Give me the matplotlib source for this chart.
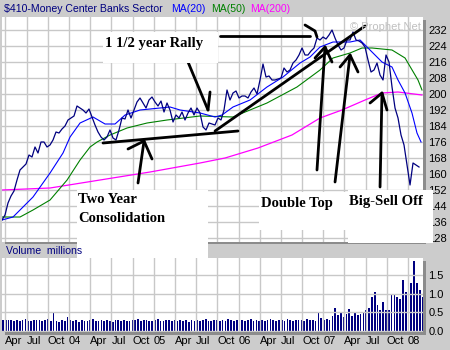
import numpy as np
import matplotlib.pyplot as plt
from matplotlib.patches import Rectangle

W, H = 450, 350
BG = '#cccccc'
SHADOW = '#8c8c8c'
GRID = '#c8c8c8'
NAVY = '#000080'

# time axis is in fractional years
x_start, x_end = 2003.209, 2008.177

# closes, roughly every 13 days from spring 2003 to early 2008
price = [137, 139.5, 145.5, 149, 151.5, 157, 162, 163.5, 165, 169.5, 168.5, 173.5,
         170.5, 176, 176, 173.5, 174.5, 177, 181, 180.5, 182.5, 184, 187, 188,
         189, 194, 193, 192, 190.5, 192.5, 188.5, 184.5, 181, 178.5, 177, 178.5,
         182, 178, 177, 182, 188, 187.5, 192, 188, 192, 196, 198, 195.5,
         193, 197, 198.5, 196, 194, 196.5, 191, 195.5, 192, 186, 189.5, 188,
         191, 187, 190.5, 193, 189.5, 193, 190.5, 183.5, 182, 185.5, 185, 184.5,
         188, 187, 192, 202, 197, 200.5, 201.5, 198, 199, 199, 198, 201,
         203, 200, 207, 215, 208.5, 209, 207, 207, 207.5, 208, 213, 211,
         212, 215.5, 217, 219.5, 223, 219.5, 219.5, 221.5, 223, 228, 227, 228.5,
         227.5, 229.5, 232, 228, 224.5, 222, 223, 227, 227, 231, 227, 226.5,
         225.5, 223.5, 217, 211, 212, 215.5, 209.5, 207, 219.5, 216, 203.5, 193,
         188, 179.5, 174.5, 164.5, 154.5, 165.5, 164.5, 163.5]
price_t = np.linspace(x_start, 2008.130, len(price))

# moving averages (20, 50, 200 day)
ma20_t = [2003.209, 2003.339, 2003.575, 2003.776, 2003.929, 2004.012, 2004.130, 2004.283,
          2004.425, 2004.543, 2004.661, 2004.838, 2005.074, 2005.192, 2005.310, 2005.546,
          2005.723, 2005.805, 2005.935, 2006.136, 2006.336, 2006.525, 2006.726, 2006.844,
          2006.962, 2007.115, 2007.316, 2007.434, 2007.528, 2007.693, 2007.811, 2007.882,
          2007.965, 2008.047, 2008.106, 2008.154]
ma20 = [137, 138.5, 148.5, 160.5, 170.5, 178.5, 185.5, 188.5, 185, 185, 189.5, 192,
        193, 193.5, 192, 190.5, 188.5, 189.5, 193.5, 197, 203.5, 208.5, 215.5, 218.5,
        223.5, 226, 226, 227, 223, 216, 213.5, 207, 200.5, 190.5, 180.5, 176]

ma50_t = [2003.209, 2003.422, 2003.575, 2003.776, 2003.977, 2004.130, 2004.248, 2004.331,
          2004.484, 2004.685, 2004.921, 2005.157, 2005.546, 2005.935, 2006.336, 2006.690,
          2006.962, 2007.115, 2007.316, 2007.457, 2007.575, 2007.811, 2007.965, 2008.118,
          2008.165]
ma50 = [138.5, 138.5, 142, 147, 157, 167, 173.5, 176, 179.5, 183, 185.5, 187, 189,
        188.5, 195.5, 203.5, 212, 218, 220.5, 223, 223, 222, 218, 207, 202]

ma200_t = [2003.209, 2003.776, 2004.366, 2004.956, 2005.546, 2005.841, 2006.230, 2006.631,
           2006.962, 2007.221, 2007.493, 2007.693, 2007.882, 2008.165]
ma200 = [152, 153, 157, 161, 165.5, 168, 173, 179.5, 188, 192, 197, 200.5, 201, 199.5]

# volume in millions
volume = [0.30, 0.28, 0.30, 0.29, 0.27, 0.30, 0.26, 0.28, 0.31, 0.27, 0.25, 0.29, 0.28,
          0.30, 0.26, 0.28, 0.31, 0.27, 0.50, 0.26, 0.24, 0.29, 0.27, 0.38, 0.30, 0.27,
          0.28, 0.24, 0.30, 0.27, 0.26, 0.29, 0.31, 0.27, 0.25, 0.28, 0.26, 0.30, 0.27,
          0.24, 0.29, 0.28, 0.26, 0.30, 0.27, 0.25, 0.29, 0.28, 0.31, 0.26, 0.28, 0.30,
          0.27, 0.25, 0.29, 0.33, 0.27, 0.26, 0.30, 0.28, 0.25, 0.29, 0.27, 0.30, 0.26,
          0.28, 0.24, 0.29, 0.27, 0.30, 0.26, 0.28, 0.31, 0.27, 0.25, 0.29, 0.28, 0.26,
          0.30, 0.27, 0.32, 0.28, 0.26, 0.29, 0.25, 0.30, 0.27, 0.28, 0.33, 0.26, 0.29,
          0.27, 0.30, 0.26, 0.28, 0.31, 0.29, 0.27, 0.30, 0.28, 0.26, 0.32, 0.29, 0.27,
          0.30, 0.28, 0.30, 0.27, 0.31, 0.28, 0.30, 0.27,
          0.48, 0.35, 0.30, 0.33, 0.30, 0.40, 0.61, 0.42, 0.50, 0.38, 0.45, 0.58, 0.40,
          0.48, 0.42, 0.45, 0.47, 0.55, 0.62, 0.91, 1.05, 0.70, 0.55, 0.78, 0.55, 0.55,
          1.00, 1.00, 0.90, 0.85, 1.37, 1.05, 0.60, 1.30, 1.90, 1.28, 1.10, 0.90]
vol_t = np.linspace(x_start + 0.01, x_end - 0.005, len(volume))

quarters = np.arange(2003.25, 2008.1, 0.25)
q_labels = []
for q in quarters:
    frac = round((q % 1) * 4)
    q_labels.append(['%02d' % (int(q) % 100), 'Apr', 'Jul', 'Oct'][frac])


def fx(x):
    return x / W


def fy(y):
    return 1 - y / H


fig = plt.figure(figsize=(W / 100, H / 100), dpi=100, facecolor=BG)
plt.rcParams['font.family'] = ['Liberation Sans', 'DejaVu Sans']

# price panel
ax = fig.add_axes([fx(2), fy(242), (423 - 2) / W, (242 - 17) / H])
ax.set_xlim(x_start, x_end)
ax.set_ylim(126, 238.5)
ax.set_yticks(np.arange(128, 233, 8))
ax.set_xticks(quarters)
ax.set_xticklabels([])
ax.grid(True, color=GRID, lw=1)
ax.yaxis.tick_right()
ax.tick_params(length=0, labelsize=8, pad=4)
for s in ax.spines.values():
    s.set_visible(False)

ax.plot(ma200_t, ma200, color='#ff00ff', lw=0.9)
ax.plot(ma50_t, ma50, color='#008000', lw=0.8)
ax.plot(ma20_t, ma20, color='#0000ff', lw=0.8)
ax.plot(price_t, price, color=NAVY, lw=0.9)

ax.text(0.995, 0.955, '\u00a9 Prophet.Net', transform=ax.transAxes, ha='right',
        va='center', fontsize=8, color='#c0c0c0')

# volume panel
vax = fig.add_axes([fx(2), fy(332), (423 - 2) / W, (332 - 258) / H])
vax.set_xlim(x_start, x_end)
vax.set_ylim(-0.035, 1.97)
vax.set_yticks([0.0, 0.5, 1.0, 1.5])
vax.set_yticklabels(['0.0', '0.5', '1.0', '1.5'])
vax.set_xticks(quarters)
vax.set_xticklabels(q_labels)
for lab in vax.get_xticklabels():
    lab.set_ha('left')
vax.grid(True, color=GRID, lw=1)
vax.yaxis.tick_right()
vax.tick_params(length=0, labelsize=8, pad=4)
vax.tick_params(axis='x', pad=3)
for s in vax.spines.values():
    s.set_visible(False)
vax.bar(vol_t, volume, width=0.02, color=NAVY, align='center')

# panel shadows
for x0, y0, x1, y1 in [(423, 20, 426, 244), (5, 242, 426, 244),
                       (423, 261, 426, 335), (5, 332, 426, 335)]:
    fig.patches.append(Rectangle((fx(x0), fy(y1)), (x1 - x0) / W, (y1 - y0) / H,
                                 transform=fig.transFigure, color=SHADOW, lw=0, zorder=2))

# header
fig.text(fx(4), fy(9), '$410-Money Center Banks Sector', color=NAVY, fontsize=7.6,
         va='center')
fig.text(fx(171), fy(9), 'MA(20)', color='#0000ff', fontsize=7.6, va='center')
fig.text(fx(211), fy(9), 'MA(50)', color='#008000', fontsize=7.6, va='center')
fig.text(fx(250), fy(9), 'MA(200)', color='#ff00ff', fontsize=7.6, va='center')
fig.text(fx(6), fy(251), 'Volume  millions', color=NAVY, fontsize=7.6, va='center')

# pasted-on notes
notes = [((103, 32, 218, 63), [('1 1/2 year Rally', 105, 43)]),
         ((77, 190, 208, 258), [('Two Year', 78, 199), ('Consolidation', 78, 218)]),
         ((259, 192, 348, 230), [('Double Top', 261, 203)]),
         ((348, 190, 433, 243), [('Big-Sell Off', 349, 201)])]
for (x0, y0, x1, y1), lines in notes:
    fig.patches.append(Rectangle((fx(x0), fy(y1)), (x1 - x0) / W, (y1 - y0) / H,
                                 transform=fig.transFigure, color='white', lw=0, zorder=3))
    for txt, tx, ty in lines:
        fig.text(fx(tx), fy(ty), txt, fontsize=10.5, fontweight='bold', va='center',
                 family='Liberation Serif', zorder=4)

# hand-drawn strokes, in (year, price)
strokes = [
    [(2004.401, 175.5), (2005.994, 181.5)],
    [(2004.814, 155.5), (2004.885, 176.5)],
    [(2004.696, 172.5), (2004.885, 176.5), (2004.979, 167.5)],
    [(2005.723, 181.5), (2007.493, 234)],
    [(2005.782, 229), (2006.844, 229)],
    [(2006.785, 234.5), (2006.903, 231.5), (2006.926, 228.5)],
    [(2005.404, 216), (2005.640, 192)],
    [(2005.664, 201), (2005.640, 192)],
    [(2006.926, 162), (2007.021, 223.5)],
    [(2006.903, 218), (2007.021, 223.5), (2007.103, 216)],
    [(2007.139, 156), (2007.316, 219.5)],
    [(2007.198, 213.5), (2007.316, 219.5), (2007.410, 211)],
    [(2007.670, 153.5), (2007.693, 200.5)],
    [(2007.552, 195.5), (2007.693, 200.5), (2007.752, 192)],
]
for st in strokes:
    xs, ys = zip(*st)
    ax.plot(xs, ys, color='black', lw=2, solid_capstyle='round')

fig.savefig('out.png', dpi=100, facecolor=BG)
